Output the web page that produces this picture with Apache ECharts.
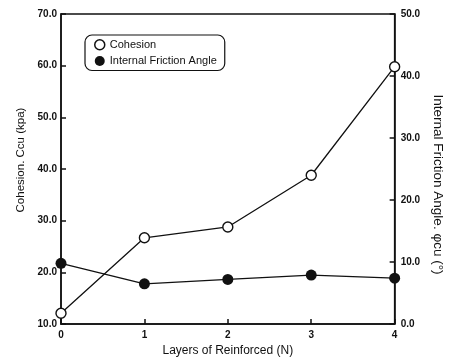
<!DOCTYPE html>
<html><head><meta charset="utf-8">
<script src="https://cdn.jsdelivr.net/npm/echarts@6/dist/echarts.min.js"></script>
<style>html,body{margin:0;padding:0;background:#fff}#c{width:453px;height:362px}</style>
</head><body><div id="c"></div>
<script>
const layers = ['0', '1', '2', '3', '4'];
const cohesion = [12.1, 26.7, 28.8, 38.8, 59.8];
const frictionAngle = [9.8, 6.5, 7.2, 7.9, 7.4];
const leftTicks = [10, 70, 10];   // min, max, interval
const rightTicks = [0, 50, 10];

const font = 'Liberation Sans, Arial, sans-serif';
const chart = echarts.init(document.getElementById('c'));
chart.setOption({
  backgroundColor: '#fff',
  animation: false,
  grid: { left: 61, right: 55, top: 14, bottom: 32, show: true, borderColor: '#111', borderWidth: 1.5 },
  legend: {
    orient: 'vertical', left: 85, top: 35,
    borderColor: '#111', borderWidth: 1.2, borderRadius: 7,
    padding: [4, 8, 4, 9], itemGap: 5, itemWidth: 10, itemHeight: 10,
    textStyle: { fontFamily: font, fontSize: 11, color: '#111' },
    data: [
      { name: 'Cohesion', icon: 'circle', itemStyle: { color: '#fff', borderColor: '#111', borderWidth: 1.5 } },
      { name: 'Internal Friction Angle', icon: 'circle', itemStyle: { color: '#111' } }
    ]
  },
  xAxis: {
    type: 'category', data: layers, boundaryGap: false,
    name: 'Layers of Reinforced (N)', nameLocation: 'middle', nameGap: 17,
    nameTextStyle: { fontFamily: font, fontSize: 12, color: '#111' },
    axisLine: { lineStyle: { color: '#111', width: 1.5 } },
    axisTick: { inside: true, length: 5, lineStyle: { color: '#111', width: 1.5 } },
    axisLabel: { fontFamily: font, fontSize: 10, fontWeight: 'bold', color: '#111', margin: 6 },
    splitLine: { show: false }
  },
  yAxis: [
    {
      type: 'value', min: leftTicks[0], max: leftTicks[1], interval: leftTicks[2],
      name: 'Cohesion. Ccu (kpa)', nameLocation: 'middle', nameGap: 32,
      nameTextStyle: { fontFamily: font, fontSize: 11.5, color: '#111', padding: [0, 0, 0, 18] },
      axisLine: { show: true, lineStyle: { color: '#111', width: 1.5 } },
      axisTick: { show: true, inside: true, length: 5, lineStyle: { color: '#111', width: 1.5 } },
      axisLabel: { fontFamily: font, fontSize: 10, fontWeight: 'bold', color: '#111', margin: 4, formatter: v => v.toFixed(1) },
      splitLine: { show: false }
    },
    {
      type: 'value', min: rightTicks[0], max: rightTicks[1], interval: rightTicks[2], position: 'right',
      name: 'Internal Friction Angle. φcu (°)', nameLocation: 'middle', nameGap: 36, nameRotate: -90,
      nameTextStyle: { fontFamily: font, fontSize: 13.5, color: '#111', padding: [0, 0, 0, 31] },
      axisLine: { show: true, lineStyle: { color: '#111', width: 1.5 } },
      axisTick: { show: true, inside: true, length: 5, lineStyle: { color: '#111', width: 1.5 } },
      axisLabel: { fontFamily: font, fontSize: 10, fontWeight: 'bold', color: '#111', margin: 6, formatter: v => v.toFixed(1) },
      splitLine: { show: false }
    }
  ],
  series: [
    {
      name: 'Cohesion', type: 'line', yAxisIndex: 0, data: cohesion,
      symbol: 'circle', symbolSize: 10,
      itemStyle: { color: '#fff', borderColor: '#111', borderWidth: 1.4 },
      lineStyle: { color: '#111', width: 1.3 }
    },
    {
      name: 'Internal Friction Angle', type: 'line', yAxisIndex: 1, data: frictionAngle,
      symbol: 'circle', symbolSize: 11,
      itemStyle: { color: '#111' },
      lineStyle: { color: '#111', width: 1.3 }
    }
  ]
});
</script></body></html>
